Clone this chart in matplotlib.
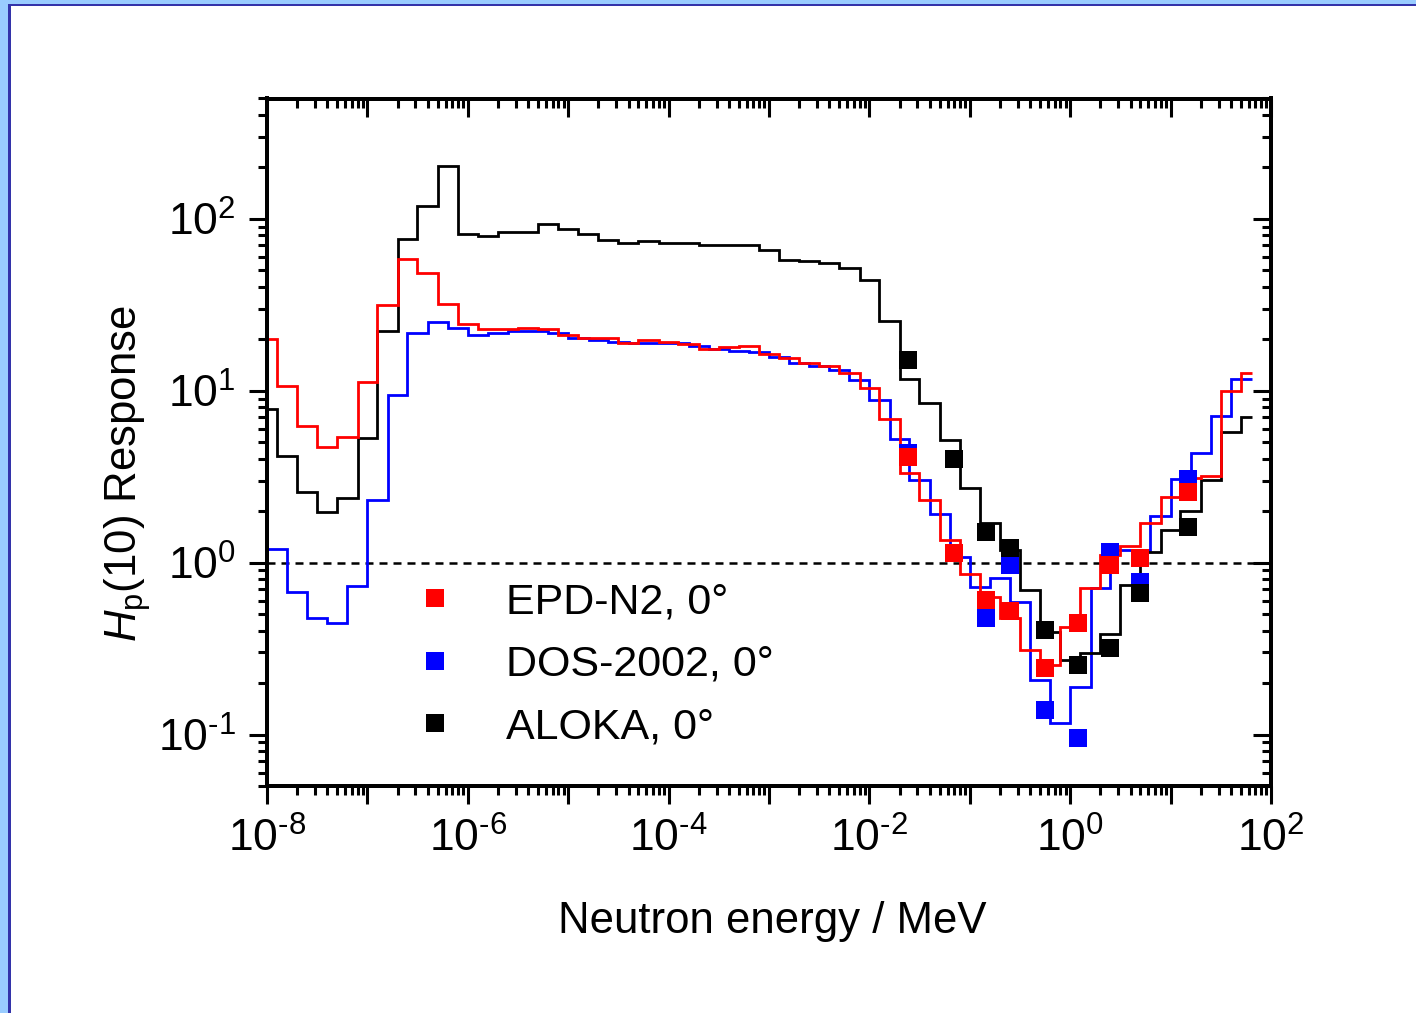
import matplotlib
matplotlib.use('Agg')
import matplotlib.pyplot as plt
from matplotlib.ticker import LogLocator, FuncFormatter, NullFormatter
from matplotlib.lines import Line2D
from matplotlib.patches import Rectangle
import numpy as np

plt.rcParams['font.family'] = ['Liberation Sans', 'DejaVu Sans']
plt.rcParams['mathtext.fontset'] = 'custom'
plt.rcParams['mathtext.rm'] = 'Liberation Sans'
plt.rcParams['mathtext.it'] = 'Liberation Sans:italic'
plt.rcParams['mathtext.bf'] = 'Liberation Sans:bold'

# ---------------- data ----------------
# bin edges (MeV) of the EPD-N2 and ALOKA response histograms
edges_epd_aloka = [8e-9, 1.25e-8, 2e-8, 3.15e-8, 5e-8, 8e-8,
                   1.25e-7, 2e-7, 3.15e-7, 5e-7, 8e-7,
                   1.25e-6, 2e-6, 3.15e-6, 5e-6, 8e-6,
                   1.25e-5, 2e-5, 3.15e-5, 5e-5, 8e-5,
                   1.25e-4, 2e-4, 3.15e-4, 5e-4, 8e-4,
                   1.25e-3, 2e-3, 3.15e-3, 5e-3, 8e-3,
                   1.25e-2, 2e-2, 3.15e-2, 5e-2, 8e-2,
                   0.125, 0.2, 0.315, 0.5, 0.8,
                   1.25, 2.0, 3.15, 5.0, 8.0,
                   12.5, 20.0, 31.5, 50.0, 65.0]

aloka_hist = [7.8, 4.16, 2.59, 1.96, 2.36, 5.27,
              22.2, 75.8, 118, 203, 81,
              78.9, 83.3, 83.3, 93.4, 86.6,
              81, 75.1, 71.8, 73.8, 71.8,
              71.8, 70.2, 70.2, 70.2, 65.4,
              57.7, 56.5, 55.4, 51.4, 43.8,
              25.5, 11.7, 8.43, 5.15, 2.70,
              1.70, 1.18, 0.69, 0.395, 0.273,
              0.296, 0.383, 0.74, 1.16, 1.54,
              2.0, 3.04, 5.76, 6.98]

epd_hist = [20.1, 10.6, 6.22, 4.69, 5.34, 11.2,
            31.4, 58.2, 48.1, 32.1, 24.4,
            22.8, 22.8, 23.2, 22.8, 21.1,
            20.2, 20.2, 18.8, 19.6, 19.2,
            18.6, 17.4, 17.9, 18.3, 16.3,
            15.5, 14.4, 13.9, 12.6, 10.4,
            6.83, 3.34, 2.31, 1.36, 0.86,
            0.63, 0.473, 0.309, 0.253, 0.423,
            0.71, 1.11, 1.25, 1.69, 2.41,
            3.1, 3.18, 9.93, 12.7]

# bin edges (MeV) of the DOS-2002 response histogram
edges_dos = [1e-8, 1.6e-8, 2.5e-8, 4e-8, 6.3e-8,
             1e-7, 1.6e-7, 2.5e-7, 4e-7, 6.3e-7,
             1e-6, 1.6e-6, 2.5e-6, 4e-6, 6.3e-6,
             1e-5, 1.6e-5, 2.5e-5, 4e-5, 6.3e-5,
             1e-4, 1.6e-4, 2.5e-4, 4e-4, 6.3e-4,
             1e-3, 1.6e-3, 2.5e-3, 4e-3, 6.3e-3,
             1e-2, 1.6e-2, 2.5e-2, 4e-2, 6.3e-2,
             0.1, 0.16, 0.25, 0.4, 0.63,
             1.0, 1.6, 2.5, 4.0, 6.3,
             10.0, 16.0, 25.0, 40.0, 65.0]

dos_hist = [1.20, 0.676, 0.477, 0.446, 0.729,
            2.31, 9.42, 21.5, 25.1, 23.2,
            21.2, 21.7, 22.2, 22.2, 21.5,
            20.3, 19.7, 19.1, 18.8, 18.8,
            18.8, 18.3, 17.4, 17.1, 16.7,
            15.7, 14.5, 13.9, 13.2, 11.5,
            8.81, 5.26, 3.04, 1.91, 1.08,
            0.72, 0.81, 0.59, 0.207, 0.117,
            0.189, 0.707, 1.18, 1.18, 1.87,
            3.08, 4.35, 7.13, 11.7]

# measured responses in reference fields
energies_meas = [0.0245, 0.07, 0.144, 0.25, 0.565, 1.2, 2.5, 5.0, 14.8]
epd_meas = [4.10, 1.13, 0.604, 0.520, 0.245, 0.445, 0.966, 1.07, 2.58]
dos_meas = [4.34, np.nan, 0.474, 0.966, 0.139, 0.0955, 1.15, 0.767, 3.08]
aloka_meas = [15.0, 4.01, 1.50, 1.22, 0.407, 0.255, 0.318, 0.668, 1.60]

labels = ['EPD-N2, 0°', 'DOS-2002, 0°', 'ALOKA, 0°']
colors = ['#FF0000', '#0000FF', '#000000']

# ---------------- figure ----------------
W, H = 1416, 1013
fig = plt.figure(figsize=(W / 100, H / 100), dpi=100)
fig.patch.set_facecolor('white')

# window-like border (light band + dark line) at top and left
fig.patches.append(Rectangle((0, 0), 8.3 / W, 1, transform=fig.transFigure,
                             facecolor='#99CCFF', edgecolor='none', zorder=0))
fig.patches.append(Rectangle((0, 1 - 4 / H), 1, 4 / H, transform=fig.transFigure,
                             facecolor='#99CCFF', edgecolor='none', zorder=0))
fig.patches.append(Rectangle((8.3 / W, 0), 2.7 / W, 1 - 4 / H, transform=fig.transFigure,
                             facecolor='#3333AA', edgecolor='none', zorder=0))
fig.patches.append(Rectangle((8.3 / W, 1 - 6.3 / H), 1, 2.3 / H, transform=fig.transFigure,
                             facecolor='#3333AA', edgecolor='none', zorder=0))

ax_l, ax_r, ax_t, ax_b = 267.0, 1271.0, 98.5, 786.3
ax = fig.add_axes([ax_l / W, 1 - ax_b / H, (ax_r - ax_l) / W, (ax_b - ax_t) / H])
ax.set_xscale('log')
ax.set_yscale('log')
ax.set_xlim(1e-8, 1e2)
ax.set_ylim(0.05, 500)

lw = 2.0
ax.stairs(dos_hist, edges_dos, baseline=None, color=colors[1], lw=lw, zorder=2.0)
ax.stairs(aloka_hist, edges_epd_aloka, baseline=None, color=colors[2], lw=lw, zorder=2.1)
ax.stairs(epd_hist, edges_epd_aloka, baseline=None, color=colors[0], lw=lw, zorder=2.2)

ax.axhline(1.0, color='black', lw=1.8, ls=(0, (3.2, 2.4)), zorder=1.5)

ms = 13.5
ax.plot(energies_meas, dos_meas, ls='none', marker='s', ms=ms, mew=0, color=colors[1], zorder=3.0)
ax.plot(energies_meas, aloka_meas, ls='none', marker='s', ms=ms, mew=0, color=colors[2], zorder=3.1)
ax.plot(energies_meas, epd_meas, ls='none', marker='s', ms=ms, mew=0, color=colors[0], zorder=3.2)

# ticks
def sup(e):
    s = str(abs(e))
    if e < 0:
        s = '\u2010' + s
    return r'$10^{%s}$' % s

def xfmt(v, pos):
    e = int(round(np.log10(v)))
    return sup(e) if e % 2 == 0 else ''

def yfmt(v, pos):
    e = int(round(np.log10(v)))
    return sup(e)

ax.xaxis.set_major_locator(LogLocator(base=10, numticks=30))
ax.xaxis.set_minor_locator(LogLocator(base=10, subs=np.arange(2, 10), numticks=30))
ax.yaxis.set_major_locator(LogLocator(base=10, numticks=30))
ax.yaxis.set_minor_locator(LogLocator(base=10, subs=np.arange(2, 10), numticks=30))
ax.xaxis.set_major_formatter(FuncFormatter(xfmt))
ax.yaxis.set_major_formatter(FuncFormatter(yfmt))
ax.xaxis.set_minor_formatter(NullFormatter())
ax.yaxis.set_minor_formatter(NullFormatter())

ax.tick_params(which='major', direction='out', length=13.3, width=2.2, labelsize=32)
ax.tick_params(which='minor', direction='out', length=6.5, width=2.2)
ax.tick_params(axis='x', which='major', pad=9)
ax.tick_params(axis='y', which='major', pad=9)
for s in ax.spines.values():
    s.set_linewidth(2.8)

# mirrored inward ticks on top / right
axt = ax.twiny()
axt.set_xscale('log')
axt.set_xlim(ax.get_xlim())
axt.xaxis.set_major_locator(LogLocator(base=10, numticks=30))
axt.xaxis.set_minor_locator(LogLocator(base=10, subs=np.arange(2, 10), numticks=30))
axt.tick_params(which='major', direction='in', length=13.3, width=2.2, labeltop=False)
axt.tick_params(which='minor', direction='in', length=6.5, width=2.2)
axr = ax.twinx()
axr.set_yscale('log')
axr.set_ylim(ax.get_ylim())
axr.yaxis.set_major_locator(LogLocator(base=10, numticks=30))
axr.yaxis.set_minor_locator(LogLocator(base=10, subs=np.arange(2, 10), numticks=30))
axr.tick_params(which='major', direction='in', length=13.3, width=2.2, labelright=False)
axr.tick_params(which='minor', direction='in', length=6.5, width=2.2)
for a in (axt, axr):
    for s in a.spines.values():
        s.set_linewidth(2.8)

# axis labels
fig.text(772.5 / W, 1 - 933.3 / H, 'Neutron energy / MeV', fontsize=31.5,
         ha='center', va='baseline')
fig.text(128 / W, 1 - 474 / H, r'$H_{\mathrm{p}}$(10) Response', fontsize=31.5,
         ha='center', va='center', rotation=90)

# legend
handles = [Line2D([], [], ls='none', marker='s', ms=ms, mew=0, color=c) for c in colors]
ax.legend(handles, labels, loc='upper left', bbox_to_anchor=(0.146, 0.2965),
          frameon=False, fontsize=31, handlelength=1.0, handletextpad=1.14,
          labelspacing=0.52, borderpad=0, borderaxespad=0)

fig.savefig('out.png', dpi=100, facecolor='white')
